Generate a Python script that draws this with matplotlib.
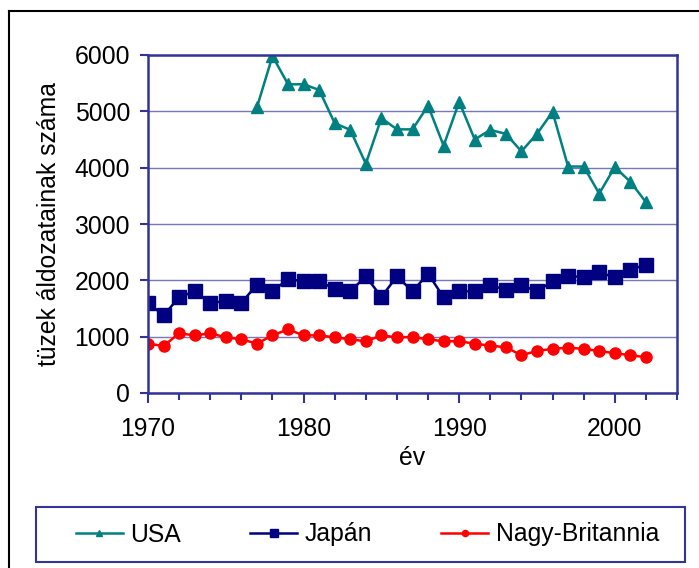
import matplotlib.pyplot as plt
from matplotlib.lines import Line2D
from matplotlib.patches import Rectangle
from matplotlib.ticker import MultipleLocator

plt.rcParams['font.family'] = ['Liberation Sans', 'DejaVu Sans']

years = list(range(1970, 2003))
usa_years = list(range(1977, 2003))
usa = [5070, 5980, 5480, 5480, 5380, 4790, 4670, 4070, 4880, 4680, 4680,
       5100, 4390, 5170, 4500, 4670, 4600, 4290, 4600, 4990, 4020, 4020,
       3540, 4010, 3750, 3390]
japan = [1600, 1376, 1700, 1805, 1600, 1630, 1600, 1923, 1805, 2024, 1982,
         1982, 1847, 1805, 2070, 1706, 2070, 1805, 2117, 1700, 1805, 1805,
         1912, 1835, 1912, 1805, 1982, 2082, 2053, 2141, 2053, 2188, 2276]
uk = [876, 835, 1059, 1023, 1059, 988, 953, 876, 1023, 1129, 1023, 1023,
      988, 953, 918, 1023, 988, 994, 953, 918, 918, 876, 841, 812, 670,
      747, 782, 806, 782, 747, 706, 670, 635]

W, H = 699, 568
fig = plt.figure(figsize=(W / 100, H / 100), dpi=100)

# outer chart border (only left and top visible in the crop)
fig.add_artist(Line2D([9 / W, 9 / W], [0, 1 - 11 / H], color='black', lw=1.5))
fig.add_artist(Line2D([9 / W, 1], [1 - 11 / H, 1 - 11 / H], color='black', lw=1.5))

ax = fig.add_axes([148 / W, (H - 393) / H, (677 - 148) / W, (393 - 55) / H])

axis_col = '#333399'
fs = 17.8
ax.plot(usa_years, usa, color='#008080', marker='^', ms=9, lw=1.8, label='USA')
ax.plot(years, japan, color='#000080', marker='s', ms=10, lw=1.8, label='Japán')
ax.plot(years, uk, color='#FF0000', marker='o', ms=8, lw=1.8, label='Nagy-Britannia')

ax.set_xlim(1970, 2004)
ax.set_ylim(0, 6000)
ax.xaxis.set_major_locator(MultipleLocator(10))
ax.xaxis.set_minor_locator(MultipleLocator(2))
ax.yaxis.set_major_locator(MultipleLocator(1000))
ax.grid(axis='y', color='#7777BB', lw=1)
ax.set_axisbelow(True)

for s in ax.spines.values():
    s.set_color(axis_col)
    s.set_linewidth(1.8)

ax.tick_params(axis='both', which='both', color=axis_col, width=1.5, labelsize=fs)
ax.tick_params(axis='x', which='major', length=7, pad=10)
ax.tick_params(axis='x', which='minor', length=5)
ax.tick_params(axis='y', length=6, pad=7)

ax.set_xlabel('év', fontsize=fs, labelpad=4)
ax.set_ylabel('tüzek áldozatainak száma', fontsize=fs, labelpad=10)

# legend box
fig.add_artist(Rectangle((36 / W, (H - 562) / H), (685 - 36) / W, (562 - 507) / H,
                         transform=fig.transFigure, fill=False,
                         edgecolor=axis_col, lw=1.5))
leg = fig.legend(loc='center', ncol=3,
                 bbox_to_anchor=(367.5 / W, 1 - (507 + 562) / 2 / H),
                 fontsize=fs, frameon=False, columnspacing=2.8,
                 handlelength=1.9, handletextpad=0.3, markerscale=0.55,
                 borderaxespad=0, borderpad=0)

fig.savefig('out.png', dpi=100)
